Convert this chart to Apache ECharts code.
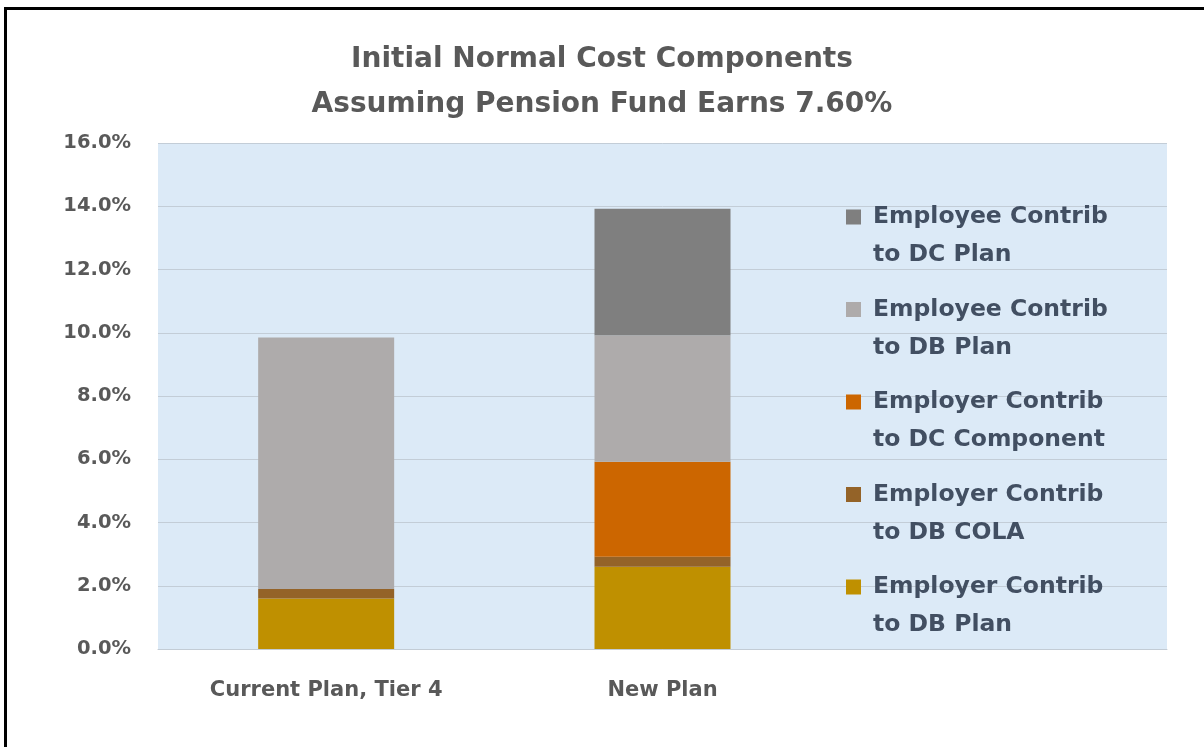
<!DOCTYPE html>
<html>
<head>
<meta charset="utf-8">
<script src="https://cdn.jsdelivr.net/npm/echarts@6/dist/echarts.min.js"></script>
<style>
  html, body { margin: 0; padding: 0; background: #ffffff; }
  #chart { width: 1204px; height: 747px; }
</style>
</head>
<body>
<div id="chart"></div>
<script>
// ---- data ----
const categories = ['Current Plan, Tier 4', 'New Plan', ''];
const yTicks = [0, 2, 4, 6, 8, 10, 12, 14, 16];
const employerDbPlan = [1.6, 2.6];
const employerDbCola = [0.3, 0.32];
const employerDcComponent = [null, 3.0];
const employeeDbPlan = [7.95, 4.0];
const employeeDcPlan = [null, 4.0];

const names = {
  eeDc: 'Employee Contrib\nto DC Plan',
  eeDb: 'Employee Contrib\nto DB Plan',
  erDc: 'Employer Contrib\nto DC Component',
  erCola: 'Employer Contrib\nto DB COLA',
  erDb: 'Employer Contrib\nto DB Plan'
};

const FONT = 'DejaVu Sans';
// square legend marker aligned with the first text line
const iconPath = 'path://M0,0L0.01,0ZM0,11.5h15v15h-15ZM22,76L22.01,76Z';

function bar(name, data, color) {
  return {
    name: name,
    type: 'bar',
    stack: 'total',
    barWidth: 136,
    data: data,
    itemStyle: { color: color },
    emphasis: { disabled: true }
  };
}

const chart = echarts.init(document.getElementById('chart'), null, { renderer: 'canvas' });
chart.setOption({
  animation: false,
  backgroundColor: '#ffffff',
  title: {
    text: 'Initial Normal Cost Components\nAssuming Pension Fund Earns 7.60%',
    left: 'center',
    top: 37,
    padding: [0, 0, 0, 26],
    textStyle: {
      fontFamily: FONT,
      fontWeight: 'bold',
      fontSize: 28,
      color: '#595959',
      lineHeight: 45
    }
  },
  graphic: [{
    type: 'rect',
    shape: { x: 5.5, y: 8.5, width: 1300, height: 900 },
    style: { fill: 'none', stroke: '#000000', lineWidth: 3 },
    z: 100
  }],
  grid: {
    left: 158, right: 37, top: 143, bottom: 98,
    show: true,
    backgroundColor: '#DCEAF7',
    borderWidth: 0
  },
  legend: {
    orient: 'vertical',
    left: 841,
    top: 193,
    itemGap: 16.5,
    itemWidth: 22,
    itemHeight: 76,
    icon: iconPath,
    selectedMode: false,
    data: [names.eeDc, names.eeDb, names.erDc, names.erCola, names.erDb],
    textStyle: {
      fontFamily: FONT,
      fontWeight: 'bold',
      fontSize: 23.5,
      color: '#424F62',
      lineHeight: 38
    }
  },
  xAxis: {
    type: 'category',
    data: categories,
    axisTick: { show: false },
    axisLine: { show: true, lineStyle: { color: '#C3CCD5', width: 1 } },
    axisLabel: {
      fontFamily: FONT,
      fontWeight: 'bold',
      fontSize: 21,
      color: '#595959',
      margin: 31
    }
  },
  yAxis: {
    type: 'value',
    min: yTicks[0],
    max: yTicks[yTicks.length - 1],
    interval: yTicks[1] - yTicks[0],
    axisLine: { show: false },
    axisTick: { show: false },
    splitLine: { lineStyle: { color: '#C3CDD7', width: 1 } },
    axisLabel: {
      fontFamily: FONT,
      fontWeight: 'bold',
      fontSize: 19.5,
      color: '#595959',
      margin: 27,
      formatter: function (v) { return v.toFixed(1) + '%'; }
    }
  },
  series: [
    bar(names.erDb, employerDbPlan, '#BF9000'),
    bar(names.erCola, employerDbCola, '#946328'),
    bar(names.erDc, employerDcComponent, '#CC6600'),
    bar(names.eeDb, employeeDbPlan, '#AEABAB'),
    bar(names.eeDc, employeeDcPlan, '#7F7F7F')
  ]
});
</script>
</body>
</html>
